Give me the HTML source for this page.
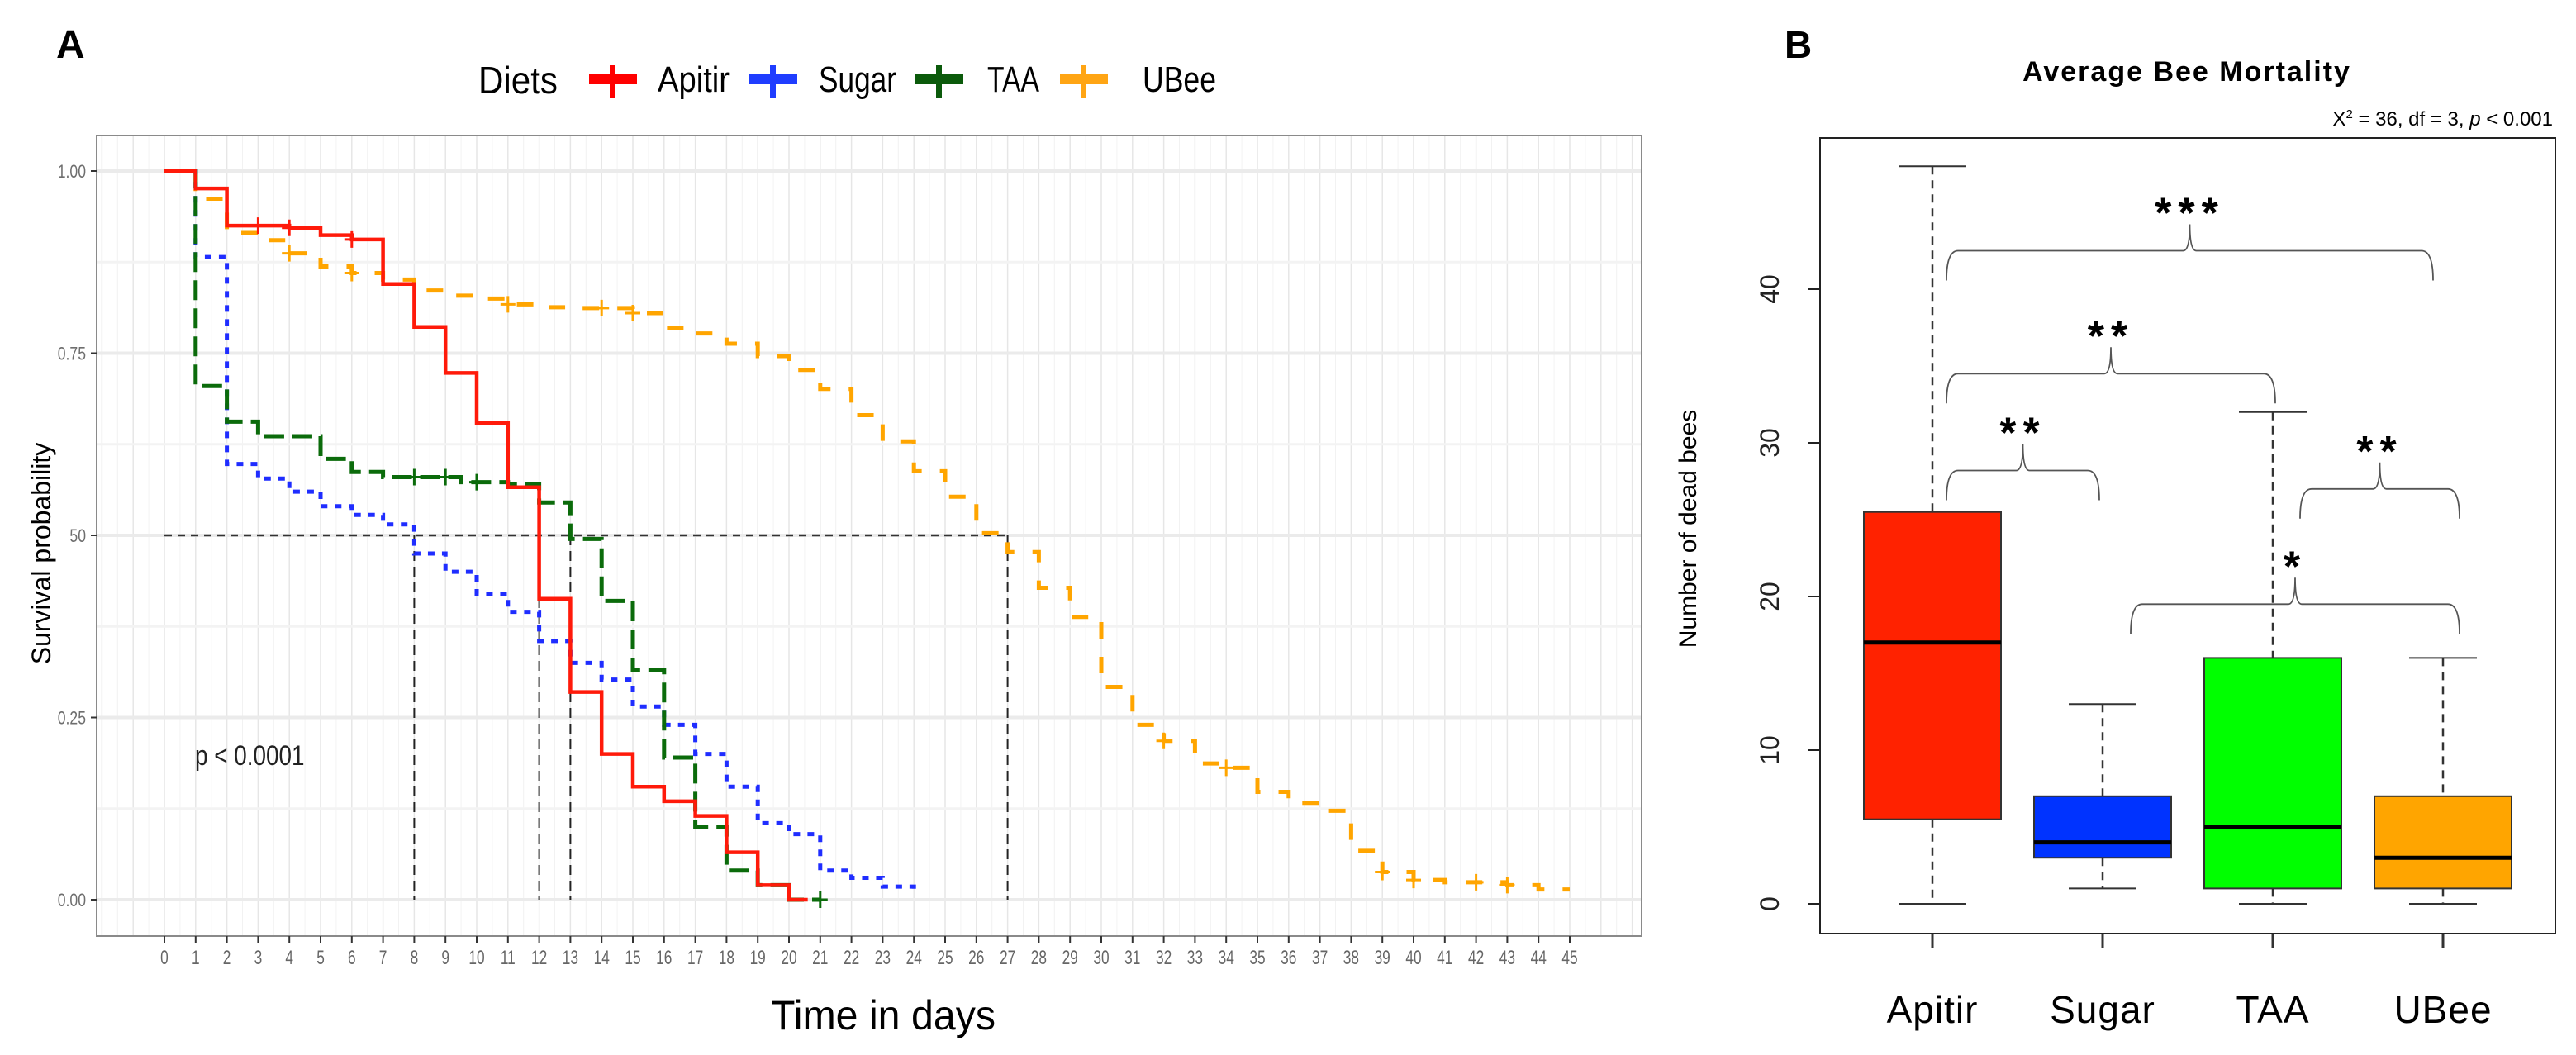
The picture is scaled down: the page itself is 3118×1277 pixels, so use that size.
<!DOCTYPE html>
<html><head><meta charset="utf-8"><style>
html,body{margin:0;padding:0;background:#fff;}
svg{display:block;font-family:"Liberation Sans",sans-serif;}
</style></head><body>
<svg id="fig" width="3118" height="1277" viewBox="0 0 3118 1277" xmlns="http://www.w3.org/2000/svg">
<g id="panelA"></g>
<g id="panelB"></g>
</svg>
<script>
// ---------- Panel A data ----------
const dayTicks = [];
for (let d = 0; d <= 45; d++) dayTicks.push(d);
const survTicks = [0, 0.25, 0.5, 0.75, 1.0];
const survTickLabels = ["0.00", "0.25", "50", "0.75", "1.00"];
const seriesNames = ["Apitir", "Sugar", "TAA", "UBee"];
const apitirTimes = [0,1,2,4,5,6,7,8,9,10,11,12,13,14,15,16,17,18,19,20,20.6];
const apitirSurv  = [1,0.976,0.925,0.922,0.912,0.906,0.845,0.786,0.723,0.654,0.566,0.413,0.285,0.2,0.155,0.135,0.115,0.065,0.02,0,0];
const sugarTimes = [0,1,2,3,4,5,6,7,8,9,10,11,12,13,14,15,16,17,18,19,20,21,22,23,24];
const sugarSurv  = [1,0.882,0.598,0.578,0.56,0.54,0.528,0.515,0.475,0.45,0.42,0.395,0.355,0.325,0.302,0.265,0.24,0.2,0.155,0.105,0.09,0.04,0.03,0.018,0.015];
const taaTimes = [0,1,2,3,5,6,7,9.5,11,12,13,14,15,16,17,18,19,20,21];
const taaSurv  = [1,0.705,0.656,0.636,0.605,0.587,0.58,0.573,0.57,0.545,0.495,0.41,0.315,0.195,0.1,0.04,0.02,0,0];
const ubeeTimes = [0,1,2,3,4,5,6,7,8,9,10,11,12,13,15,16,17,18,19,20,21,22,23,24,25,26,27,28,29,30,31,32,33,34,35,36,37,38,39,40,41,43,44,45];
const ubeeSurv  = [1,0.962,0.915,0.905,0.887,0.869,0.86,0.851,0.836,0.829,0.825,0.817,0.813,0.812,0.805,0.785,0.777,0.763,0.746,0.727,0.701,0.665,0.629,0.588,0.553,0.503,0.477,0.428,0.388,0.292,0.24,0.218,0.187,0.181,0.148,0.133,0.122,0.067,0.038,0.027,0.024,0.02,0.014,0.014];
const medianDays = [8, 12, 13, 27];
// ---------- Panel B data ----------
const dietCats = ["Apitir", "Sugar", "TAA", "UBee"];
const boxMin = [0, 1, 0, 0];
const boxQ1  = [5.5, 3, 1, 1];
const boxMed = [17, 4, 5, 3];
const boxQ3  = [25.5, 7, 16, 7];
const boxMax = [48, 13, 32, 16];
const countTicks = [0, 10, 20, 30, 40];
const sigFrom = [0, 0, 0, 2, 1];
const sigTo   = [3, 2, 1, 3, 3];
const sigLevel = [42.5, 34.5, 28.2, 27, 19.5];
const sigStars = ["***", "**", "**", "**", "*"];

const NS = "http://www.w3.org/2000/svg";
function mk(parent, tag, attrs, text) {
  const e = document.createElementNS(NS, tag);
  for (const k in attrs) e.setAttribute(k, attrs[k]);
  if (text !== undefined) e.textContent = text;
  parent.appendChild(e);
  return e;
}

// ---------- Panel A ----------
const A = document.getElementById('panelA');
const xA = d => 199 + d * 37.8;
const yA = s => 1089 - s * 882;
const L = 117, R = 1987, T = 164, B = 1133;
let el;
el = mk(A, 'rect', {x: L, y: T, width: R - L, height: B - T, fill: '#fff'});


for (let d = -2.5; d <= 47.5; d += 0.5) {
  const x = xA(d); if (x <= L || x >= R) continue;
  el = mk(A, 'line', {x1: x, x2: x, y1: T, y2: B, stroke: Number.isInteger(d) ? '#e6e6e6' : '#f2f2f2', 'stroke-width': Number.isInteger(d) ? 1.5 : 1});
  
  
}
for (let s = -0.125; s <= 1.125; s += 0.125) {
  const y = yA(s); if (y <= T || y >= B) continue;
  const major = Math.abs(s * 4 - Math.round(s * 4)) < 1e-6;
  el = mk(A, 'line', {x1: L, x2: R, y1: y, y2: y, stroke: major ? '#ebebeb' : '#f3f3f3', 'stroke-width': major ? 4 : 3});
  
  
}
el = mk(A, 'rect', {x: L, y: T, width: R - L, height: B - T, fill: 'none', stroke: '#8a8a8a', 'stroke-width': 2});


survTicks.forEach((s, i) => {
  el = mk(A, 'line', {x1: L - 7, x2: L, y1: yA(s), y2: yA(s), stroke: '#333', 'stroke-width': 2});
  
  
  el = mk(A, 'text', {x: 104, y: yA(s) + 8, 'text-anchor': 'end', 'font-size': 22, fill: '#6e6e6e', transform: `translate(${104},0) scale(0.8,1) translate(${-104},0)`}, survTickLabels[i]);
  
  
});
dayTicks.forEach(d => {
  el = mk(A, 'line', {x1: xA(d), x2: xA(d), y1: B, y2: B + 9, stroke: '#333', 'stroke-width': 2});
  
  
  el = mk(A, 'text', {x: xA(d), y: 1167, 'text-anchor': 'middle', 'font-size': 24, fill: '#666', transform: `translate(${xA(d)},0) scale(0.72,1) translate(${-xA(d)},0)`}, String(d));
  
  
});
el = mk(A, 'line', {x1: xA(0), x2: xA(27), y1: yA(0.5), y2: yA(0.5), stroke: '#333', 'stroke-width': 2.5, 'stroke-dasharray': '9,7'});


medianDays.forEach(d => {
  el = mk(A, 'line', {x1: xA(d), x2: xA(d), y1: yA(0.5), y2: yA(0), stroke: '#222', 'stroke-width': 2, 'stroke-dasharray': '12,7'});
  
  
});
function stepPath(ts, ss) {
  let p = `M${xA(ts[0])},${yA(ss[0])}`;
  for (let i = 1; i < ts.length; i++) p += ` H${xA(ts[i])} V${yA(ss[i])}`;
  return p;
}
const curveDefs = [
  {t: ubeeTimes, s: ubeeSurv, c: '#ffa500', dash: '20,22', w: 5, name: 'ubee-curve'},
  {t: sugarTimes, s: sugarSurv, c: '#1f2dff', dash: '8,9', w: 5, name: 'sugar-curve'},
  {t: taaTimes, s: taaSurv, c: '#0b6b0b', dash: '24,10', w: 5, name: 'taa-curve'},
  {t: apitirTimes, s: apitirSurv, c: '#ff1a0a', dash: 'none', w: 4.5, name: 'apitir-curve'}
];
curveDefs.forEach(cd => {
  el = mk(A, 'path', {d: stepPath(cd.t, cd.s), fill: 'none', stroke: cd.c, 'stroke-width': cd.w, 'stroke-dasharray': cd.dash});
  
  
});
const ubeeCensor = [4, 6, 11, 14, 15, 32, 34, 39, 40, 42, 43];
const apitirCensor = [3, 4, 6];
const taaCensor = [8, 9, 10, 21];
function censorAt(ts, ss, d) { let v = ss[0]; for (let i = 0; i < ts.length; i++) if (ts[i] <= d) v = ss[i]; return v; }
[[ubeeCensor, ubeeTimes, ubeeSurv, '#ffa500'], [apitirCensor, apitirTimes, apitirSurv, '#ff1a0a'], [taaCensor, taaTimes, taaSurv, '#0b6b0b']].forEach(([cs, ts, ss, col]) => {
  cs.forEach(d => {
    const x = xA(d), y = yA(censorAt(ts, ss, d + 0.01));
    el = mk(A, 'path', {d: `M${x - 9},${y} H${x + 9} M${x},${y - 10} V${y + 10}`, stroke: col, 'stroke-width': 3});
    
    
  });
});
el = mk(A, 'text', {x: 236, y: 926, 'font-size': 34, fill: '#222', transform: 'translate(236,0) scale(0.82,1) translate(-236,0)'}, 'p < 0.0001');


el = mk(A, 'text', {x: 933, y: 1246, 'font-size': 50, fill: '#000', textLength: 272, lengthAdjust: 'spacingAndGlyphs'}, 'Time in days');


el = mk(A, 'text', {x: 0, y: 0, 'font-size': 32, fill: '#000', 'text-anchor': 'middle', transform: 'translate(61,670) rotate(-90)'}, 'Survival probability');


el = mk(A, 'text', {x: 68, y: 70, 'font-size': 48, 'font-weight': 'bold', fill: '#000'}, 'A');


el = mk(A, 'text', {x: 579, y: 113, 'font-size': 46, fill: '#000', textLength: 96, lengthAdjust: 'spacingAndGlyphs'}, 'Diets');


const legKeyX = [713, 907, 1108, 1283];
const legTxtX = [796, 991, 1195, 1383];
const legTxtW = [87, 94, 63, 89];
const legCol = ['#ff0000', '#1f3dff', '#0b5a0b', '#ffa514'];
seriesNames.forEach((n, i) => {
  const g = mk(A, 'g', {});
  
  
  const kx = legKeyX[i];
  mk(g, 'rect', {x: kx, y: 89, width: 58, height: 13, fill: legCol[i]});
  mk(g, 'rect', {x: kx + 25, y: 79, width: 7, height: 40, fill: legCol[i]});
  mk(g, 'text', {x: legTxtX[i], y: 111, 'font-size': 44, fill: '#000', textLength: legTxtW[i], lengthAdjust: 'spacingAndGlyphs'}, n);
});

// ---------- Panel B ----------
const Bp = document.getElementById('panelB');
const xB = i => 2339 + i * 206;
const yB = v => 1094 - v * 18.6;
el = mk(Bp, 'rect', {x: 2203, y: 167, width: 890, height: 963, fill: 'none', stroke: '#222', 'stroke-width': 2});


countTicks.forEach(v => {
  el = mk(Bp, 'line', {x1: 2188, x2: 2203, y1: yB(v), y2: yB(v), stroke: '#222', 'stroke-width': 2});
  
  
  el = mk(Bp, 'text', {x: 0, y: 0, 'font-size': 32, fill: '#222', 'text-anchor': 'middle', transform: `translate(2153,${yB(v)}) rotate(-90)`}, String(v));
  
  
});
const boxCol = ['#ff2200', '#0033ff', '#00ff00', '#ffa500'];
dietCats.forEach((c, i) => {
  const g = mk(Bp, 'g', {});
  
  
  const cx = xB(i);
  mk(g, 'line', {x1: cx, x2: cx, y1: yB(boxMax[i]), y2: yB(boxQ3[i]), stroke: '#333', 'stroke-width': 2.5, 'stroke-dasharray': '10,7'});
  mk(g, 'line', {x1: cx, x2: cx, y1: yB(boxQ1[i]), y2: yB(boxMin[i]), stroke: '#333', 'stroke-width': 2.5, 'stroke-dasharray': '10,7'});
  mk(g, 'line', {x1: cx - 41, x2: cx + 41, y1: yB(boxMax[i]), y2: yB(boxMax[i]), stroke: '#333', 'stroke-width': 2});
  mk(g, 'line', {x1: cx - 41, x2: cx + 41, y1: yB(boxMin[i]), y2: yB(boxMin[i]), stroke: '#333', 'stroke-width': 2});
  mk(g, 'rect', {x: cx - 83, y: yB(boxQ3[i]), width: 166, height: yB(boxQ1[i]) - yB(boxQ3[i]), fill: boxCol[i], stroke: '#333', 'stroke-width': 2});
  mk(g, 'line', {x1: cx - 83, x2: cx + 83, y1: yB(boxMed[i]), y2: yB(boxMed[i]), stroke: '#000', 'stroke-width': 5});
  mk(g, 'line', {x1: cx, x2: cx, y1: 1130, y2: 1148, stroke: '#333', 'stroke-width': 3});
  el = mk(Bp, 'text', {x: cx, y: 1238, 'font-size': 46, fill: '#000', 'text-anchor': 'middle', 'letter-spacing': '1'}, c);
  
  
});
sigFrom.forEach((f, k) => {
  const xs = k === 3 ? xB(2) + 33 : (k === 4 ? xB(1) + 34 : xB(f) + 17);
  const xe = k === 2 ? xB(1) - 4 : (k === 1 ? xB(2) + 3 : (k === 0 ? xB(3) - 12 : xB(3) + 20));
  const y = yB(sigLevel[k]);
  const mid = (xs + xe) / 2;
  el = mk(Bp, 'path', {d: `M${xs},${y + 36} Q${xs},${y} ${xs + 14},${y} H${mid - 8} Q${mid},${y} ${mid},${y - 32} Q${mid},${y} ${mid + 8},${y} H${xe - 14} Q${xe},${y} ${xe},${y + 36}`, fill: 'none', stroke: '#555', 'stroke-width': 1.8});
  
  
  el = mk(Bp, 'text', {x: mid, y: y - 28, 'font-size': 52, 'font-weight': 'bold', fill: '#000', 'text-anchor': 'middle', 'letter-spacing': '8'}, sigStars[k]);
  
  
});
el = mk(Bp, 'text', {x: 0, y: 0, 'font-size': 30, fill: '#000', 'text-anchor': 'middle', transform: 'translate(2053,640) rotate(-90)'}, 'Number of dead bees');


el = mk(Bp, 'text', {x: 2647, y: 98, 'font-size': 34, 'font-weight': 'bold', fill: '#000', 'text-anchor': 'middle', 'letter-spacing': '2'}, 'Average Bee Mortality');


el = mk(Bp, 'text', {x: 3090, y: 152, 'font-size': 24, fill: '#000', 'text-anchor': 'end'});


el.innerHTML = 'X<tspan font-size="15" dy="-9">2</tspan><tspan dy="9"> = 36, df = 3, </tspan><tspan font-style="italic">p</tspan><tspan> &lt; 0.001</tspan>';
el = mk(Bp, 'text', {x: 2160, y: 70, 'font-size': 46, 'font-weight': 'bold', fill: '#000'}, 'B');


</script>
</body></html>
